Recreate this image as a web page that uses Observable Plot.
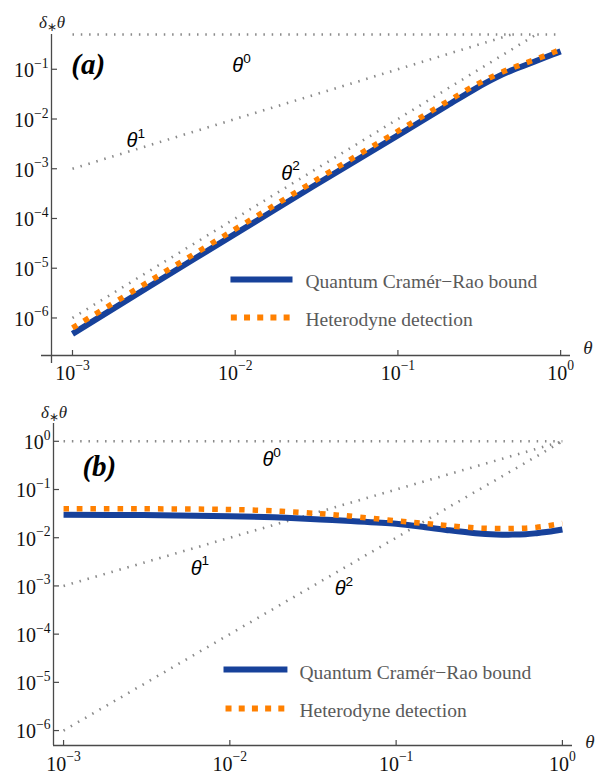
<!DOCTYPE html>
<html><head><meta charset="utf-8">
<script src="https://cdn.jsdelivr.net/npm/d3@7"></script>
<script src="https://cdn.jsdelivr.net/npm/@observablehq/plot@0.6"></script>
<style>
html,body{margin:0;padding:0;background:#fff;}
#wrap{width:596px;}
#wrap svg{display:block;overflow:visible;}
</style></head>
<body><div id="wrap"><div id="pa"></div><div id="pb"></div></div>
<script>
// ---------- data ----------
// panel (a)
const thetaA = [0.001, 0.003, 0.01, 0.03, 0.1, 0.2, 0.3, 0.4, 0.5, 0.6, 0.7, 0.8, 0.9, 1.0];
const qcrbA  = [4.8e-7, 4.4e-6, 4.9e-5, 4.4e-4, 4.7e-3, 0.0185, 0.041, 0.068, 0.095, 0.119, 0.145, 0.172, 0.200, 0.229];
const hetA   = [6.3e-7, 5.6e-6, 6.1e-5, 5.4e-4, 5.7e-3, 0.0222, 0.048, 0.077, 0.105, 0.131, 0.158, 0.187, 0.218, 0.252];
const refA0  = [[0.001, 0.5], [1, 0.5]];
const refA1  = [[0.001, 0.001], [0.5, 0.5]];
const refA2  = [[0.001, 1e-6], [0.707, 0.5]];
// panel (b)
const thetaB = [0.001, 0.003, 0.01, 0.02, 0.035, 0.05, 0.1, 0.15, 0.2, 0.3, 0.4, 0.5, 0.6, 0.7, 0.8, 0.9, 1.0];
const qcrbB  = [0.030, 0.0295, 0.028, 0.0262, 0.0240, 0.0225, 0.0195, 0.0165, 0.0145, 0.0124, 0.0117, 0.0116, 0.0118, 0.0124, 0.0131, 0.0139, 0.0148];
const hetB   = [0.040, 0.0398, 0.0385, 0.0355, 0.0315, 0.0285, 0.0225, 0.0198, 0.0180, 0.0160, 0.0155, 0.0155, 0.0158, 0.0165, 0.0175, 0.0186, 0.0197];
const refB0  = [[0.001, 1], [1, 1]];
const refB1  = [[0.001, 0.001], [1, 1]];
const refB2  = [[0.001, 1e-6], [1, 1]];
// ticks
const xTicks   = [1e-3, 1e-2, 1e-1, 1];
const xLabels  = ["10^−3", "10^−2", "10^−1", "10^0"];
const yTicksA  = [1e-6, 1e-5, 1e-4, 1e-3, 1e-2, 1e-1];
const yLabelsA = ["10^−6", "10^−5", "10^−4", "10^−3", "10^−2", "10^−1"];
const yTicksB  = [1e-6, 1e-5, 1e-4, 1e-3, 1e-2, 1e-1, 1];
const yLabelsB = ["10^−6", "10^−5", "10^−4", "10^−3", "10^−2", "10^−1", "10^0"];
const powerLabels = ["θ^0", "θ^1", "θ^2"];
const seriesNames = ["Quantum Cramér−Rao bound", "Heterodyne detection"];

// ---------- styling ----------
const W = 596;
const blue = "#17419a", orange = "#ff8000", dotGray = "#8a8a8a", axisGray = "#4a4a4a";

function makePanel(o) {
  const fw = W - o.ml - o.mr, fh = o.h - o.mt - o.mb;
  const rows = (xs, ys) => xs.map((t, i) => ({t, v: ys[i]}));
  const marks = [];
  for (const r of o.refs)
    marks.push(Plot.line(r, {x: d => d[0], y: d => d[1], stroke: dotGray, strokeWidth: 2.6, strokeDasharray: "1.5,6.8", strokeLinecap: "butt"}));
  marks.push(Plot.line(rows(o.theta, o.qcrb), {x: "t", y: "v", stroke: blue, strokeWidth: 6, curve: "catmull-rom", strokeLinecap: "butt"}));
  marks.push(Plot.line(rows(o.theta, o.het), {x: "t", y: "v", stroke: orange, strokeWidth: 5.5, strokeDasharray: "5.5,8", curve: "catmull-rom", strokeLinecap: "butt", strokeLinejoin: "miter"}));
  // axes
  marks.push(Plot.ruleY([o.yDom[0]], {x1: o.xAxisFrom, x2: o.xDom[1], stroke: axisGray, strokeWidth: 1.3}));
  marks.push(Plot.ruleX([o.xDom[0]], {y1: o.yAxisFrom, y2: o.yDom[1], stroke: axisGray, strokeWidth: 1.3}));
  marks.push(Plot.tickY(o.yTicks, {y: d => d, stroke: axisGray, strokeWidth: 1.2, insetRight: fw - 6}));
  marks.push(Plot.tickX(xTicks, {x: d => d, stroke: axisGray, strokeWidth: 1.2, insetTop: fh - 5}));
  marks.push(Plot.text(o.yTicks.map((v, i) => ({v, s: o.yLabels[i]})),
    {x: o.xDom[0], y: "v", text: "s", textAnchor: "end", dx: -3, dy: 1.5, fontSize: 20, fill: "#111"}));
  marks.push(Plot.text(xTicks.map((v, i) => ({v, s: xLabels[i]})),
    {x: "v", y: o.yDom[0], text: "s", textAnchor: "middle", dy: o.xLabelDy, fontSize: 20, fill: "#111"}));
  // axis titles
  marks.push(Plot.text(["δ_∗θ"], {text: d => d, frameAnchor: "top-left", dx: 0.5, dy: o.yTitleDy, textAnchor: "middle", fontSize: 17, fontStyle: "italic", fill: "#222"}));
  marks.push(Plot.text(["θ"], {text: d => d, frameAnchor: "bottom-right", dx: 17.5, dy: o.xTitleDy, textAnchor: "middle", fontSize: 19, fontStyle: "italic", fill: "#222"}));
  // power-law annotations
  marks.push(Plot.text(o.powerPos.map((p, i) => ({t: p[0], v: p[1], s: powerLabels[i]})),
    {x: "t", y: "v", text: "s", textAnchor: "start", fontFamily: "Liberation Sans", fontStyle: "italic", fontSize: 20, fill: "#000"}));
  // panel tag
  marks.push(Plot.text([o.tag], {x: () => o.tagPos[0], y: () => o.tagPos[1], text: d => d, textAnchor: "middle", fontSize: 29, fontWeight: "bold", fontStyle: "italic", fill: "#000"}));
  // legend
  const L = o.legend;
  marks.push(Plot.line([{t: L.blueX[0], v: L.blueY}, {t: L.blueX[1], v: L.blueY}], {x: "t", y: "v", stroke: blue, strokeWidth: 6, strokeLinecap: "butt"}));
  marks.push(Plot.line([{t: L.orX[0], v: L.orY}, {t: L.orX[1], v: L.orY}], {x: "t", y: "v", stroke: orange, strokeWidth: 6, strokeDasharray: "6,7.2", strokeLinecap: "butt"}));
  marks.push(Plot.text([{t: L.textX, v: L.textY[0], s: seriesNames[0]}, {t: L.textX, v: L.textY[1], s: seriesNames[1]}],
    {x: "t", y: "v", text: "s", textAnchor: "start", fontSize: 19.5, fill: "#5a5a5a"}));

  return Plot.plot({
    width: W, height: o.h,
    marginLeft: o.ml, marginRight: o.mr, marginTop: o.mt, marginBottom: o.mb,
    x: {type: "log", domain: o.xDom, axis: null},
    y: {type: "log", domain: o.yDom, axis: null},
    style: {fontFamily: "Liberation Serif", background: "white", overflow: "visible"},
    marks
  });
}

function enrich(svg) {
  const ns = "http://www.w3.org/2000/svg";
  svg.querySelectorAll("text").forEach(el => {
    const s = el.textContent;
    if (!/[\^_]/.test(s)) return;
    const fs = parseFloat(getComputedStyle(el).fontSize) || 16;
    const parts = [];
    let cur = "", i = 0;
    while (i < s.length) {
      const ch = s[i];
      if (ch === "^") { if (cur) parts.push([cur, "n"]); parts.push([s.slice(i + 1), "sup"]); cur = ""; i = s.length; break; }
      if (ch === "_") { if (cur) parts.push([cur, "n"]); parts.push([s[i + 1], "sub"]); cur = ""; i += 2; continue; }
      cur += ch; i++;
    }
    if (cur) parts.push([cur, "n"]);
    while (el.firstChild) el.removeChild(el.firstChild);
    let shift = 0;
    for (const [txt, kind] of parts) {
      const ts = document.createElementNS(ns, "tspan");
      let target = 0;
      if (kind === "sup") { target = -0.47 * fs; ts.setAttribute("font-size", (0.68 * fs).toFixed(1)); ts.setAttribute("font-style", "normal"); }
      if (kind === "sub") { target = 0.18 * fs; ts.setAttribute("font-size", (0.7 * fs).toFixed(1)); ts.setAttribute("font-style", "normal"); }
      const dy = target - shift;
      if (dy) ts.setAttribute("dy", dy.toFixed(2));
      shift = target;
      ts.textContent = txt;
      el.appendChild(ts);
    }
  });
}

const a = makePanel({
  h: 385, ml: 51, mr: 26, mt: 34, mb: 30,
  xDom: [7.43e-4, 1.15], yDom: [1.76e-7, 0.5],
  xAxisFrom: 6.45e-4, yAxisFrom: 1.22e-7,
  theta: thetaA, qcrb: qcrbA, het: hetA, refs: [refA0, refA1, refA2],
  yTicks: yTicksA, yLabels: yLabelsA,
  xLabelDy: 17.6, yTitleDy: -18.4, xTitleDy: -2,
  powerPos: [[0.0096, 0.118], [0.00215, 0.00364], [0.0192, 8.07e-4]],
  tag: "(a)", tagPos: [0.00125, 0.126],
  legend: {blueX: [0.00935, 0.0225], blueY: 5.96e-6, orX: [0.0094, 0.0222], orY: 1.02e-6, textX: 0.027, textY: [5.27e-6, 9.08e-7]}
});
const b = makePanel({
  h: 392, ml: 53, mr: 24, mt: 38, mb: 32,
  xDom: [8.7e-4, 1.15], yDom: [4.9e-7, 2.34],
  xAxisFrom: 8.7e-4, yAxisFrom: 4.9e-7,
  theta: thetaB, qcrb: qcrbB, het: hetB, refs: [refB0, refB1, refB2],
  yTicks: yTicksB, yLabels: yLabelsB,
  xLabelDy: 18.6, yTitleDy: -17.4, xTitleDy: 2,
  powerPos: [[0.0157, 0.409], [0.00581, 0.0023], [0.0427, 8.8e-4]],
  tag: "(b)", tagPos: [0.00164, 0.293],
  legend: {blueX: [0.00916, 0.0222], blueY: 1.85e-5, orX: [0.00942, 0.0216], orY: 2.86e-6, textX: 0.0262, textY: [1.55e-5, 2.52e-6]}
});
document.getElementById("pa").appendChild(a);
document.getElementById("pb").appendChild(b);
enrich(a); enrich(b);
</script>
</body></html>
